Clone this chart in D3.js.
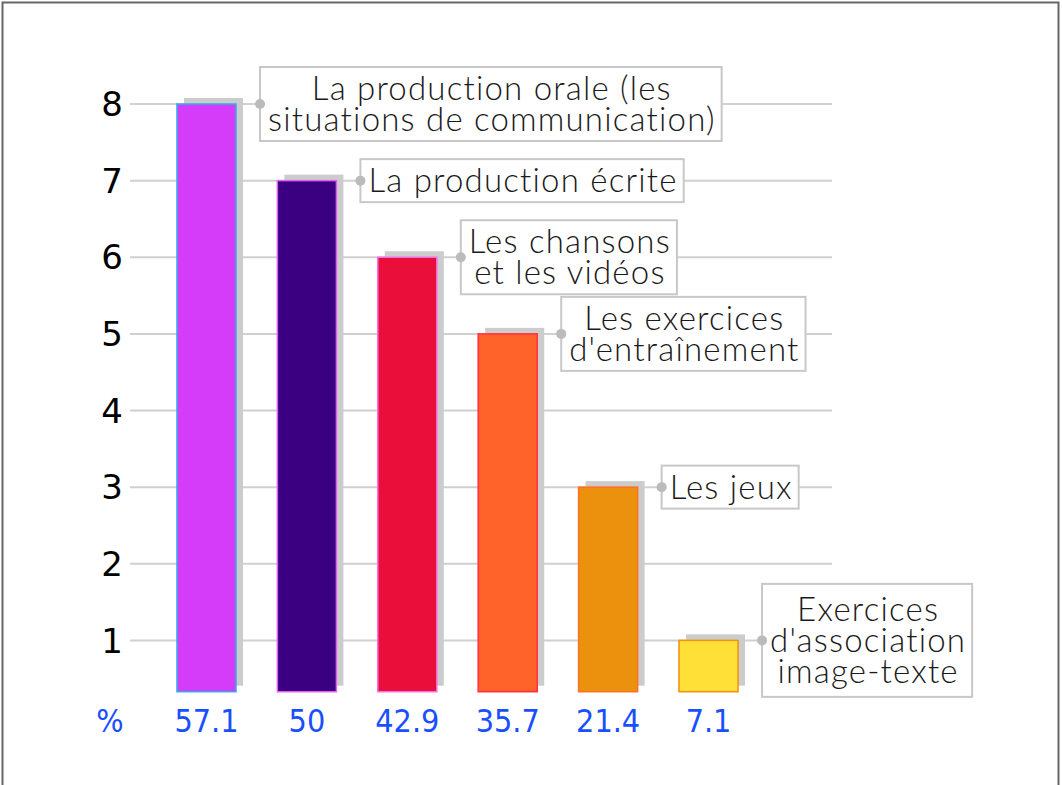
<!DOCTYPE html>
<html>
<head>
<meta charset="utf-8">
<script src="https://cdn.jsdelivr.net/npm/d3@7"></script>
<style>
  body { margin: 0; background: #fff; }
  svg { display: block; }
</style>
</head>
<body>
<div id="chart"></div>
<script>
// data
const categories = ["orale", "ecrite", "chansons", "exercices", "jeux", "association"];
const values = [8, 7, 6, 5, 3, 1];
const percents = ["57.1", "50", "42.9", "35.7", "21.4", "7.1"];
const labels = [
  ["La production orale (les", "situations de communication)"],
  ["La production écrite"],
  ["Les chansons", "et les vidéos"],
  ["Les exercices", "d'entraînement"],
  ["Les jeux"],
  ["Exercices", "d'association", "image-texte"]
];
const yTicks = [1, 2, 3, 4, 5, 6, 7, 8];
const fills = ["#d53cf9", "#3b0082", "#ea0f3b", "#ff6329", "#eb910d", "#ffe036"];
const strokes = ["#2eaee8", "#e060f0", "#f070e0", "#ff3040", "#ff7020", "#f29010"];

const width = 1062, height = 785;
const barBase = 0.33;

const svg = d3.select("#chart").append("svg")
  .attr("width", width)
  .attr("height", height);

// frame
svg.append("rect")
  .attr("x", 2.5).attr("y", 2.5)
  .attr("width", 1056).attr("height", 820)
  .attr("fill", "none")
  .attr("stroke", "#666")
  .attr("stroke-width", 2);

const x = d3.scaleBand()
  .domain(categories)
  .range([135.6, 779.4])
  .padding(0.412);

const y = d3.scaleLinear()
  .domain([0, 8])
  .range([717, 104]);

// grid lines
svg.append("g")
  .selectAll("line")
  .data(yTicks)
  .join("line")
  .attr("x1", 130).attr("x2", 832)
  .attr("y1", d => y(d)).attr("y2", d => y(d))
  .attr("stroke", "#d0d0d0")
  .attr("stroke-width", 2);

// y tick labels
svg.append("g")
  .selectAll("text")
  .data(yTicks)
  .join("text")
  .attr("x", 112)
  .attr("y", d => y(d))
  .attr("dy", "0.36em")
  .attr("text-anchor", "middle")
  .attr("font-family", "DejaVu Sans")
  .attr("font-size", 34)
  .attr("fill", "#000")
  .text(d => d);

const data = categories.map((c, i) => ({ c, v: values[i], i }));

// shadows
svg.append("g")
  .selectAll("rect")
  .data(data)
  .join("rect")
  .attr("x", d => x(d.c) + 7)
  .attr("y", d => y(d.v) - 6)
  .attr("width", x.bandwidth())
  .attr("height", d => y(barBase) - y(d.v))
  .attr("fill", "#cccccc");

// bars
svg.append("g")
  .selectAll("rect")
  .data(data)
  .join("rect")
  .attr("x", d => x(d.c))
  .attr("y", d => y(d.v))
  .attr("width", x.bandwidth())
  .attr("height", d => y(barBase) - y(d.v))
  .attr("fill", d => fills[d.i])
  .attr("stroke", d => strokes[d.i])
  .attr("stroke-width", 1.5);

// percent labels
svg.append("text")
  .attr("x", 110).attr("y", 732)
  .attr("text-anchor", "middle")
  .attr("font-family", "DejaVu Sans Condensed, DejaVu Sans")
  .attr("font-size", 32)
  .attr("fill", "#1a4fff")
  .text("%");

svg.append("g")
  .selectAll("text")
  .data(data)
  .join("text")
  .attr("x", d => x(d.c) + x.bandwidth() / 2)
  .attr("y", 732)
  .attr("text-anchor", "middle")
  .attr("font-family", "DejaVu Sans Condensed, DejaVu Sans")
  .attr("font-size", 32)
  .attr("fill", "#1a4fff")
  .text(d => percents[d.i]);

// callout labels
const lineH = 31;
const callouts = svg.append("g")
  .selectAll("g")
  .data(data)
  .join("g")
  .attr("transform", d => `translate(${x(d.c) + x.bandwidth() + 24},${y(d.v)})`);

const boxes = callouts.append("rect")
  .attr("fill", "#fff")
  .attr("stroke", "#c8c8c8")
  .attr("stroke-width", 2);

const texts = callouts.append("text")
  .attr("font-family", "Lato")
  .attr("font-weight", 300)
  .attr("font-size", 33)
  .attr("letter-spacing", 1.2)
  .style("font-variant-ligatures", "none")
  .attr("fill", "#1a1a1a")
  .attr("text-anchor", "middle");

texts.each(function (d) {
  const lines = labels[d.i];
  const t = d3.select(this);
  lines.forEach((l, k) => {
    t.append("tspan")
      .attr("x", 0)
      .attr("y", (k - (lines.length - 1) / 2) * lineH)
      .attr("dy", "0.35em")
      .text(l);
  });
});

callouts.each(function (d) {
  const g = d3.select(this);
  const bb = g.select("text").node().getBBox();
  const n = labels[d.i].length;
  const w = bb.width + 14;
  const h = n * lineH + (n > 2 ? 20 : 12);
  g.select("rect")
    .attr("x", 0).attr("y", -h / 2)
    .attr("width", w).attr("height", h);
  g.select("text").attr("transform", `translate(${w / 2 + 1},0)`);
});

callouts.append("circle")
  .attr("cx", 0).attr("cy", 0)
  .attr("r", 5)
  .attr("fill", "#bbbbbb");
</script>
</body>
</html>
